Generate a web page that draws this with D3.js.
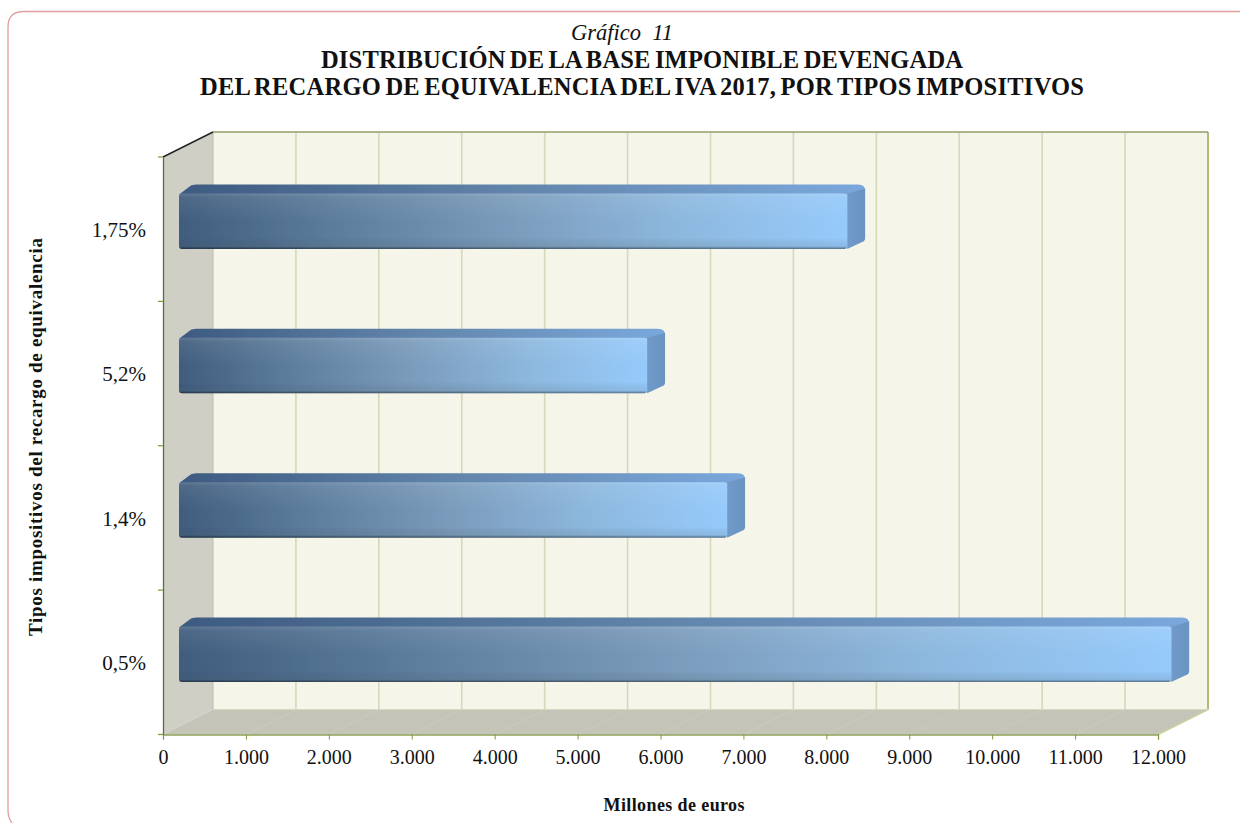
<!DOCTYPE html>
<html><head><meta charset="utf-8">
<script src="https://cdn.jsdelivr.net/npm/d3@7/dist/d3.min.js"></script>
<style>html,body{margin:0;padding:0;background:#fff}svg{display:block}text{font-family:"Liberation Serif",serif;fill:#111}</style>
</head><body><svg id="c" width="1242" height="823"></svg>
<script>
const categories = ["1,75%","5,2%","1,4%","0,5%"];
const values = [8058,5645,6610,11966];
const xTicks = [0,1000,2000,3000,4000,5000,6000,7000,8000,9000,10000,11000,12000];
const yTitle = "Tipos impositivos del recargo de equivalencia";
const xTitle = "Millones de euros";
const titleLines = ["DISTRIBUCIÓN DE LA BASE IMPONIBLE DEVENGADA","DEL RECARGO DE EQUIVALENCIA DEL IVA 2017, POR TIPOS IMPOSITIVOS"];
const fmt = v => d3.format(",")(v).replace(/,/g,".");

const svg = d3.select("#c");
const x = d3.scaleLinear().domain([0,12000]).range([163,1158]);
const y = d3.scaleBand().domain(categories).range([157,734.5]).paddingInner(.616).paddingOuter(.308);
const L=x.range()[0], R=x.range()[1], T=157, B=734.5, dx=50, dy=-25;
const bdx=16, bdy=-8, bd=18, bh=-9;

const defs = svg.append("defs");
const g1 = defs.append("linearGradient").attr("id","front");
[[0,"#405d7e"],[.25,"#5f7f9f"],[.5,"#7b9cbc"],[.75,"#8db8de"],[1,"#96cafb"]].forEach(s=>g1.append("stop").attr("offset",s[0]).attr("stop-color",s[1]));
const g2 = defs.append("linearGradient").attr("id","top");
[[0,"#3d5a80"],[.5,"#6386ac"],[1,"#7aa8dc"]].forEach(s=>g2.append("stop").attr("offset",s[0]).attr("stop-color",s[1]));
const g3 = defs.append("linearGradient").attr("id","gloss").attr("x1",0).attr("x2",0).attr("y1",0).attr("y2",1);
[[0,"#fff",.16],[.07,"#fff",.07],[.5,"#fff",0],[.8,"#000",.0],[.95,"#455",.12],[.98,"#000",.3],[1,"#000",.42]].forEach(s=>g3.append("stop").attr("offset",s[0]).attr("stop-color",s[1]).attr("stop-opacity",s[2]));
const g4 = defs.append("linearGradient").attr("id","side");
[[0,"#7099c9"],[1,"#6a94c2"]].forEach(s=>g4.append("stop").attr("offset",s[0]).attr("stop-color",s[1]));
defs.append("filter").attr("id","soft").attr("x","-2%").attr("y","-10%").attr("width","104%").attr("height","120%")
 .append("feGaussianBlur").attr("stdDeviation",.7);

// frame
svg.append("path").attr("fill","none").attr("stroke","#e29f9f").attr("stroke-width",1.3)
 .attr("d","M12,823 Q8,818 8,810 V27 Q8,11.5 24,11.5 H1240");

// walls
svg.append("rect").attr("x",L+dx).attr("y",T+dy).attr("width",R-L).attr("height",B-T).attr("fill","#f5f5ea");
svg.append("polygon").attr("points",[[L,T],[L+dx,T+dy],[L+dx,B+dy],[L,B]].join(" ")).attr("fill","#cfcfc6");
svg.append("polygon").attr("points",[[L,B],[L+dx,B+dy],[R+dx,B+dy],[R,B]].join(" ")).attr("fill","#c4c4b9");

// floor streaks
svg.append("g").selectAll("line").data(xTicks).join("line")
 .attr("x1",d=>x(d)).attr("x2",d=>x(d)+dx).attr("y1",B).attr("y2",B+dy)
 .attr("stroke","#d2d4c0").attr("stroke-width",1.2).attr("stroke-opacity",.4);

// gridlines
svg.append("g").selectAll("line").data(xTicks.slice(1)).join("line")
 .attr("x1",d=>x(d)+dx).attr("x2",d=>x(d)+dx).attr("y1",T+dy).attr("y2",B+dy)
 .attr("stroke","#d6d9b8").attr("stroke-width",1.6);
svg.append("line").attr("x1",R+dx).attr("x2",R+dx).attr("y1",T+dy).attr("y2",B+dy).attr("stroke","#b2bb78").attr("stroke-width",2);
svg.append("line").attr("x1",L+dx).attr("x2",R+dx).attr("y1",T+dy).attr("y2",T+dy).attr("stroke","#949c68").attr("stroke-width",1.5);
svg.append("line").attr("x1",R).attr("x2",R+dx).attr("y1",B).attr("y2",B+dy).attr("stroke","#c9cf9d").attr("stroke-width",1.5);
svg.append("line").attr("x1",L+dx).attr("x2",L+dx).attr("y1",T+dy).attr("y2",B+dy).attr("stroke","#bcbdac").attr("stroke-width",1);
svg.append("line").attr("x1",L+dx).attr("x2",R+dx).attr("y1",B+dy).attr("y2",B+dy).attr("stroke","#d7d9b9").attr("stroke-width",1.2);
svg.append("line").attr("x1",L).attr("x2",L+dx).attr("y1",T).attr("y2",T+dy).attr("stroke","#222").attr("stroke-width",1.5);

// bars
const bars = svg.append("g").attr("filter","url(#soft)").selectAll("g").data(categories.map((c,i)=>({c,v:values[i]}))).join("g");
bars.append("path").attr("fill","url(#top)").attr("d",d=>{
 const x0=L+bdx,x1=x(d.v)+bdx,t=y(d.c)+bdy;
 return `M${x0},${t+1} L${x0+bd-6},${t+bh+1} Q${x0+bd-3},${t+bh} ${x0+bd},${t+bh} H${x1+bd-7} Q${x1+bd},${t+bh} ${x1+bd},${t+bh+6} L${x1},${t+1} Z`;});
bars.append("path").attr("fill","url(#side)").attr("d",d=>{
 const x1=x(d.v)+bdx,t=y(d.c)+bdy,b=t+y.bandwidth();
 return `M${x1},${t} L${x1+bd},${t+bh+4} V${b+bh-2} Q${x1+bd},${b+bh+1} ${x1+bd-3},${b+bh+2} L${x1},${b} Z`;});
bars.append("rect").attr("x",L+bdx).attr("y",d=>y(d.c)+bdy).attr("rx",3)
 .attr("width",d=>x(d.v)-L).attr("height",y.bandwidth()).attr("fill","url(#front)");
bars.append("rect").attr("x",L+bdx).attr("y",d=>y(d.c)+bdy).attr("rx",3)
 .attr("width",d=>x(d.v)-L).attr("height",y.bandwidth()).attr("fill","url(#gloss)");

// axes
const xAxis = d3.axisBottom(x).tickValues(xTicks).tickFormat(fmt).tickSize(5).tickPadding(10);
const gx = svg.append("g").attr("transform",`translate(0,${B})`).call(xAxis);
gx.select(".domain").attr("stroke","#8fa05a").attr("stroke-width",1.3);
gx.selectAll(".tick line").attr("stroke","#7f9a3c");
gx.selectAll("text").attr("font-size",20).style("font-family",'"Liberation Serif",serif').attr("fill","#111");

const yAxis = d3.axisLeft(y).tickSize(0).tickPadding(17);
const gy = svg.append("g").attr("transform",`translate(${L},0)`).call(yAxis);
gy.select(".domain").attr("stroke","#5f6b45").attr("stroke-width",1.3);
gy.selectAll("text").attr("font-size",21).attr("dy","0.36em").style("font-family",'"Liberation Serif",serif').attr("fill","#111");
svg.append("g").selectAll("line").data(d3.range(0,5)).join("line")
 .attr("x1",L-5).attr("x2",L).attr("y1",i=>T+i*y.step()).attr("y2",i=>T+i*y.step()).attr("stroke","#7f9a3c").attr("stroke-width",1.2);

// titles
svg.append("text").attr("x",622).attr("y",40).attr("text-anchor","middle").attr("font-size",22.5).attr("font-style","italic").style("white-space","pre").text("Gráfico  11");
svg.append("text").attr("x",642).attr("y",68).attr("text-anchor","middle").attr("font-size",24.5).attr("font-weight","bold").attr("word-spacing",-2).attr("textLength",642).attr("lengthAdjust","spacing").text(titleLines[0]);
svg.append("text").attr("x",642).attr("y",95).attr("text-anchor","middle").attr("font-size",24.5).attr("font-weight","bold").attr("word-spacing",-2).attr("textLength",884).attr("lengthAdjust","spacing").text(titleLines[1]);
svg.append("text").attr("transform","translate(42,437) rotate(-90)").attr("text-anchor","middle").attr("font-size",19).attr("font-weight","bold").attr("textLength",398).attr("lengthAdjust","spacing").text(yTitle);
svg.append("text").attr("x",674).attr("y",811).attr("text-anchor","middle").attr("font-size",18).attr("font-weight","bold").attr("textLength",141).attr("lengthAdjust","spacing").text(xTitle);
</script></body></html>
